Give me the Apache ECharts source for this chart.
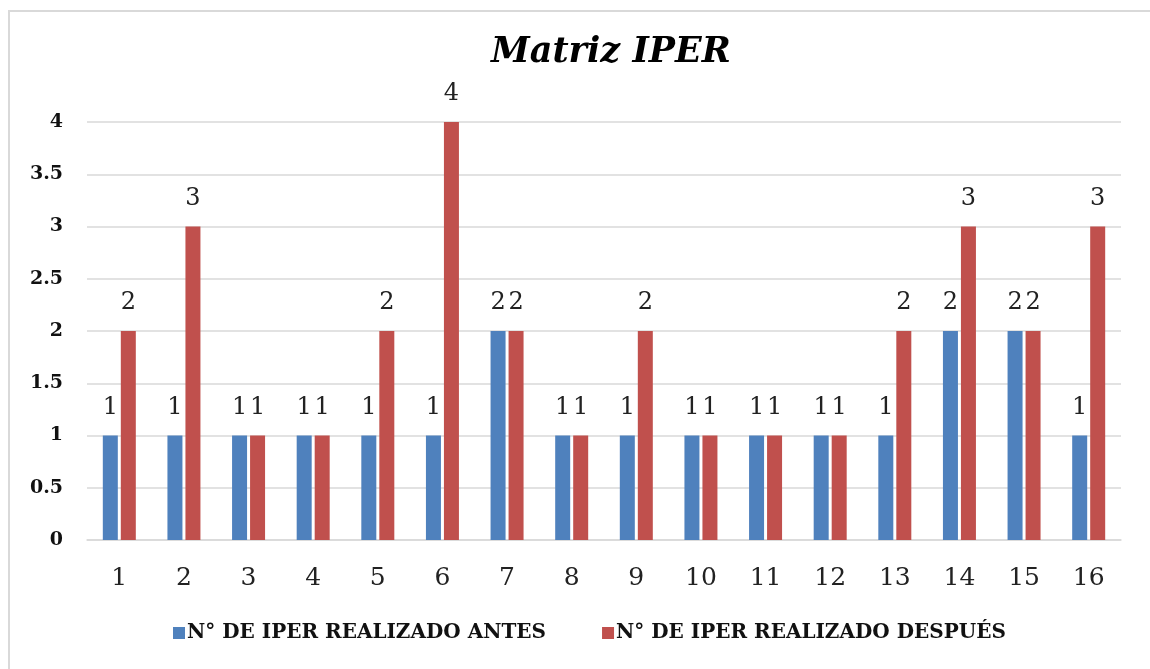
<!DOCTYPE html>
<html>
<head>
<meta charset="utf-8">
<script src="https://cdn.jsdelivr.net/npm/echarts@6/dist/echarts.min.js"></script>
<style>
  html, body { margin: 0; padding: 0; background: #fff; }
  #chart { width: 1150px; height: 669px; }
</style>
</head>
<body>
<div id="chart"></div>
<script>
// datos
var categorias = ['1', '2', '3', '4', '5', '6', '7', '8', '9', '10', '11', '12', '13', '14', '15', '16'];
var antes = [1, 1, 1, 1, 1, 1, 2, 1, 1, 1, 1, 1, 1, 2, 2, 1];
var despues = [2, 3, 1, 1, 2, 4, 2, 1, 2, 1, 1, 1, 2, 3, 2, 3];
var nombres = ['N° DE IPER REALIZADO ANTES', 'N° DE IPER REALIZADO DESPUÉS'];

var fuente = '"DejaVu Serif", "Liberation Serif", serif';

var myChart = echarts.init(document.getElementById('chart'));

var etiqueta = {
    show: true,
    position: 'top',
    distance: 16,
    color: '#222',
    fontFamily: fuente,
    fontSize: 24
};

var option = {
    backgroundColor: '#fff',
    animation: false,
    graphic: [{
        type: 'rect',
        shape: { x: 9, y: 11, width: 1150, height: 680 },
        style: { fill: 'none', stroke: '#d9d9d9', lineWidth: 2 },
        silent: true
    }],
    title: {
        text: 'Matriz IPER',
        left: 486,
        top: 30,
        textStyle: {
            fontFamily: fuente,
            fontSize: 35,
            fontWeight: 'bold',
            fontStyle: 'italic',
            color: '#000'
        }
    },
    legend: {
        data: nombres,
        bottom: 21,
        left: 168,
        itemWidth: 12,
        itemHeight: 12,
        itemGap: 56,
        icon: 'rect',
        textStyle: {
            fontFamily: fuente,
            fontSize: 20,
            fontWeight: 'bold',
            color: '#111',
            padding: [0, 0, 0, -3]
        }
    },
    grid: {
        left: 87,
        right: 29,
        top: 122,
        bottom: 129
    },
    xAxis: {
        type: 'category',
        data: categorias,
        axisTick: { show: false },
        axisLine: { lineStyle: { color: '#d9d9d9', width: 1.5 } },
        axisLabel: {
            color: '#222',
            fontFamily: fuente,
            fontSize: 25,
            margin: 26
        }
    },
    yAxis: {
        type: 'value',
        min: 0,
        max: 4,
        interval: 0.5,
        axisLine: { show: false },
        axisTick: { show: false },
        splitLine: { lineStyle: { color: '#d9d9d9', width: 1.5 } },
        axisLabel: {
            color: '#111',
            fontFamily: fuente,
            fontSize: 19,
            fontWeight: 'bold',
            margin: 24,
            align: 'right'
        }
    },
    series: [
        {
            name: nombres[0],
            type: 'bar',
            data: antes,
            barWidth: 15,
            barGap: '20%',
            itemStyle: { color: '#4F81BD' },
            label: etiqueta
        },
        {
            name: nombres[1],
            type: 'bar',
            data: despues,
            barWidth: 15,
            itemStyle: { color: '#C0504D' },
            label: etiqueta
        }
    ]
};

myChart.setOption(option);
</script>
</body>
</html>
